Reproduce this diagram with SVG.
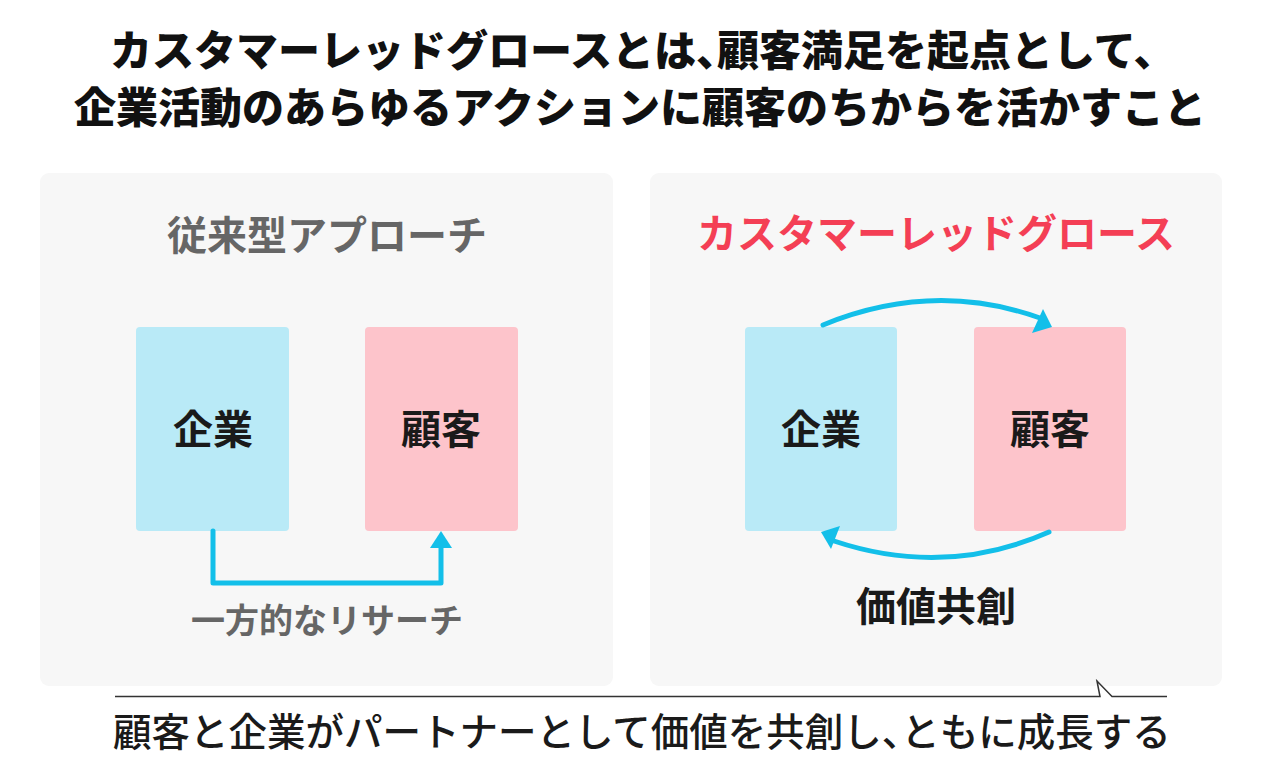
<svg xmlns="http://www.w3.org/2000/svg" width="1280" height="771" viewBox="0 0 1280 771">
<style>
text{font-family:"Noto Sans CJK JP","Noto Sans",sans-serif;text-anchor:middle}
.title{font-size:42px;font-weight:900;fill:#111}
.panel{fill:#f7f7f7}
.ph{font-size:40px;font-weight:700}
.blue{fill:#b9eaf7}
.pink{fill:#fdc4cb}
.lbl{font-size:40px;font-weight:700;fill:#1a1a1a}
.conn{fill:none;stroke:#13bfe9;stroke-width:5;stroke-linecap:round;stroke-linejoin:round}
.head{fill:#13bfe9}
</style>
<rect width="1280" height="771" fill="#ffffff"/>
<g id="title">
<text class="title" x="110" y="66" style="text-anchor:start">カスタマーレッドグロースとは、<tspan dx="-21">顧客満足を起点として、</tspan></text>
<text class="title" x="640" y="123">企業活動のあらゆるアクションに顧客のちからを活かすこと</text>
</g>
<g id="panel-left">
<rect class="panel" x="40" y="173" width="573" height="513" rx="9"/>
<text class="ph" x="327" y="250" fill="#666666">従来型アプローチ</text>
</g>
<g id="panel-right">
<rect class="panel" x="650" y="173" width="572" height="513" rx="9"/>
<text class="ph" x="936" y="248" fill="#f43f55">カスタマーレッドグロース</text>
</g>
<g id="left-company">
<rect class="blue" x="136" y="327" width="153" height="204" rx="4"/>
<text class="lbl" x="213" y="444">企業</text>
</g>
<g id="left-customer">
<rect class="pink" x="365" y="327" width="153" height="204" rx="4"/>
<text class="lbl" x="441" y="444">顧客</text>
</g>
<g id="right-company">
<rect class="blue" x="745" y="327" width="152" height="204" rx="4"/>
<text class="lbl" x="821" y="444">企業</text>
</g>
<g id="right-customer">
<rect class="pink" x="974" y="327" width="152" height="204" rx="4"/>
<text class="lbl" x="1050" y="444">顧客</text>
</g>
<g id="connectors">
<path class="conn" d="M213 531 V583 H441 V546"/>
<polygon class="head" points="441,531 452,548 430,548"/>
<path class="conn" d="M823 325 Q933 280 1040 318"/>
<polygon class="head" points="1052,327 1043,309 1032,333"/>
<path class="conn" d="M1049 532 Q945 578 834 541"/>
<polygon class="head" points="821,532 831,549 840,526"/>
</g>
<g id="label-research">
<text x="327" y="633" style="font-size:34px;font-weight:700" fill="#666666">一方的なリサーチ</text>
</g>
<g id="label-cocreation">
<text class="lbl" x="936" y="621">価値共創</text>
</g>
<g id="caption">
<path d="M115 696.5 H1100 L1097 681 L1112 696.5 H1167" fill="none" stroke="#333" stroke-width="1.5" stroke-linejoin="miter"/>
<text x="113" y="746" style="font-size:38.5px;font-weight:500;text-anchor:start" fill="#1a1a1a">顧客と企業がパートナーとして価値を共創し、<tspan dx="-19">ともに成長する</tspan></text>
</g>
</svg>
